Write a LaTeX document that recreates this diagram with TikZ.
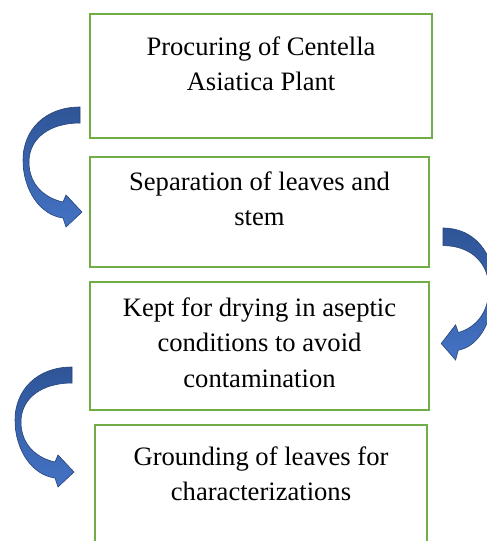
\documentclass[tikz,border=0pt]{standalone}
\usepackage{fontspec}
\setmainfont{Liberation Serif}
\usetikzlibrary{calc}
\definecolor{boxgreen}{RGB}{112,173,71}
\definecolor{arrowdark}{RGB}{47,85,151}
\definecolor{arrowlight}{RGB}{68,114,196}
\tikzset{
  step box/.style={
      rectangle,
      draw=boxgreen,
      line width=0.8pt,
      inner sep=0pt
      },
  step text/.style={
      anchor=north,
      align=center,
      inner sep=0pt,
      font=\fontsize{13.3}{17.75}\selectfont
      },
  bent arrow/.pic={
      \path [draw=arrowdark!80!black, line width=0.3pt,
             top color=arrowdark, bottom color=arrowlight]
        (0,0) .. controls (-35,0) and (-57,23) .. (-57,53)
        .. controls (-57,83) and (-40,108) .. (-17,111)
        -- (-14,120) -- (2,105) -- (-14,88) -- (-17,95)
        .. controls (-35,91) and (-51,78) .. (-51,55)
        .. controls (-51,31) and (-30,16) .. (0,16) -- cycle;
      }
}

\begin{document}
\begin{tikzpicture}[x=0.5pt, y=-0.5pt]
\useasboundingbox (0,0) rectangle (487,541);
\clip (0,0) rectangle (487,541);
% boxes
\node [step box, minimum width=171pt, minimum height=62pt] (b1) at (261,76) {};
\node [step box, minimum width=169.5pt, minimum height=55pt] (b2) at (259.5,212) {};
\node [step box, minimum width=169.5pt, minimum height=64pt] (b3) at (259.5,346) {};
\node [step box, minimum width=166pt, minimum height=67.5pt] (b4) at (261,492.5) {};
% texts
\node [step text] (t1) at ($(b1.north)+(0,23)$) {Procuring of Centella\\Asiatica Plant};
\node [step text] (t2) at ($(b2.north)+(0,15)$) {Separation of leaves and\\stem};
\node [step text] (t3) at ($(b3.north)+(0,16)$) {Kept for drying in aseptic\\conditions to avoid\\contamination};
\node [step text] (t4) at ($(b4.north)+(0,22)$) {Grounding of leaves for\\characterizations};
% arrows
\pic at (80,107) {bent arrow};
\pic [xscale=-0.9, yscale=1.1] at (443,228) {bent arrow};
\pic at (72,367) {bent arrow};
\end{tikzpicture}
\end{document}
